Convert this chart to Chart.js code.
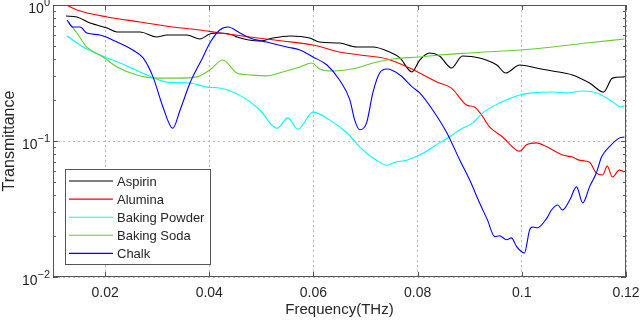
<!DOCTYPE html>
<html>
<head>
<meta charset="utf-8">
<script src="https://cdn.jsdelivr.net/npm/chart.js@4"></script>
<style>
  body { margin: 0; background: #fff; }
  canvas { display: block; }
</style>
</head>
<body>
<canvas id="chart" width="640" height="322"></canvas>
<script>
// Series data (frequency in THz, transmittance)
const aspirinFreq = [0.0125, 0.0146, 0.0171, 0.0184, 0.0204, 0.0223, 0.0267, 0.0299, 0.0319, 0.0357, 0.0382, 0.0401, 0.0420, 0.0445, 0.0453, 0.0497, 0.0522, 0.0555, 0.0593, 0.0612, 0.0650, 0.0683, 0.0714, 0.0746, 0.0766, 0.0789, 0.0804, 0.0823, 0.0842, 0.0865, 0.0886, 0.0919, 0.0952, 0.0969, 0.0996, 0.1028, 0.1059, 0.1097, 0.1130, 0.1157, 0.1174, 0.1197];
const aspirinT = [0.830, 0.816, 0.737, 0.713, 0.677, 0.633, 0.633, 0.582, 0.602, 0.602, 0.562, 0.612, 0.622, 0.602, 0.582, 0.543, 0.572, 0.592, 0.572, 0.534, 0.525, 0.491, 0.491, 0.451, 0.408, 0.322, 0.394, 0.444, 0.422, 0.344, 0.422, 0.408, 0.362, 0.316, 0.362, 0.344, 0.327, 0.306, 0.267, 0.229, 0.290, 0.296];

const aluminaFreq = [0.0127, 0.0146, 0.0204, 0.0267, 0.0330, 0.0382, 0.0420, 0.0478, 0.0541, 0.0599, 0.0650, 0.0689, 0.0741, 0.0785, 0.0804, 0.0837, 0.0865, 0.0894, 0.0909, 0.0923, 0.0938, 0.0963, 0.0990, 0.0996, 0.1009, 0.1028, 0.1048, 0.1078, 0.1097, 0.1110, 0.1130, 0.1143, 0.1155, 0.1164, 0.1174, 0.1187, 0.1197];
const aluminaT = [0.99, 0.92, 0.816, 0.75, 0.689, 0.655, 0.622, 0.582, 0.543, 0.508, 0.451, 0.429, 0.401, 0.344, 0.316, 0.271, 0.245, 0.184, 0.178, 0.155, 0.127, 0.107, 0.0856, 0.0842, 0.0937, 0.0969, 0.0906, 0.0789, 0.0762, 0.0723, 0.0697, 0.0581, 0.0562, 0.0653, 0.0543, 0.0611, 0.0591];

const powderFreq = [0.0127, 0.0158, 0.0190, 0.0229, 0.0267, 0.0319, 0.0363, 0.0395, 0.0420, 0.0464, 0.0497, 0.0530, 0.0551, 0.0570, 0.0599, 0.0631, 0.0664, 0.0695, 0.0721, 0.0741, 0.0756, 0.0779, 0.0804, 0.0842, 0.0861, 0.0881, 0.0906, 0.0925, 0.0957, 0.0996, 0.1021, 0.1059, 0.1086, 0.1117, 0.1149, 0.1174, 0.1191, 0.1197];
const powderT = [0.592, 0.491, 0.429, 0.375, 0.322, 0.271, 0.267, 0.249, 0.245, 0.211, 0.169, 0.124, 0.148, 0.122, 0.163, 0.143, 0.115, 0.0856, 0.0723, 0.0663, 0.0697, 0.0723, 0.0789, 0.0969, 0.107, 0.121, 0.136, 0.161, 0.190, 0.218, 0.226, 0.229, 0.226, 0.233, 0.222, 0.194, 0.178, 0.181];

const sodaFreq = [0.0127, 0.0146, 0.0165, 0.0196, 0.0223, 0.0261, 0.0299, 0.0338, 0.0376, 0.0401, 0.0426, 0.0453, 0.0478, 0.0510, 0.0541, 0.0574, 0.0597, 0.0612, 0.0637, 0.0683, 0.0714, 0.0752, 0.0804, 0.0842, 0.0900, 0.0996, 0.1059, 0.1124, 0.1197];
const sodaT = [0.776, 0.622, 0.491, 0.415, 0.350, 0.306, 0.290, 0.290, 0.296, 0.333, 0.394, 0.316, 0.306, 0.301, 0.322, 0.350, 0.375, 0.338, 0.327, 0.344, 0.375, 0.401, 0.415, 0.429, 0.444, 0.467, 0.491, 0.525, 0.562];

const chalkFreq = [0.0127, 0.0138, 0.0152, 0.0165, 0.0190, 0.0223, 0.0253, 0.0273, 0.0292, 0.0311, 0.0330, 0.0344, 0.0363, 0.0388, 0.0401, 0.0420, 0.0436, 0.0459, 0.0478, 0.0510, 0.0549, 0.0574, 0.0599, 0.0626, 0.0650, 0.0670, 0.0679, 0.0689, 0.0702, 0.0714, 0.0727, 0.0741, 0.0766, 0.0790, 0.0804, 0.0829, 0.0856, 0.0881, 0.0900, 0.0919, 0.0934, 0.0948, 0.0957, 0.0971, 0.0980, 0.0990, 0.1005, 0.1015, 0.1021, 0.1030, 0.1048, 0.1057, 0.1069, 0.1078, 0.1092, 0.1105, 0.1117, 0.1130, 0.1143, 0.1153, 0.1168, 0.1187, 0.1197];
const chalkT = [0.776, 0.689, 0.689, 0.622, 0.602, 0.534, 0.467, 0.408, 0.296, 0.178, 0.124, 0.169, 0.267, 0.415, 0.525, 0.655, 0.689, 0.622, 0.572, 0.534, 0.491, 0.467, 0.415, 0.362, 0.281, 0.200, 0.143, 0.121, 0.136, 0.226, 0.316, 0.338, 0.306, 0.249, 0.226, 0.169, 0.115, 0.0723, 0.0516, 0.0350, 0.0263, 0.0198, 0.0201, 0.0188, 0.0194, 0.0167, 0.0150, 0.0222, 0.0233, 0.0230, 0.0271, 0.0311, 0.0338, 0.0311, 0.0368, 0.0460, 0.0350, 0.0460, 0.0581, 0.0762, 0.0906, 0.105, 0.107];

const seriesNames = ['Aspirin', 'Alumina', 'Baking Powder', 'Baking Soda', 'Chalk'];

// Axis ticks
const xTicks = [0.02, 0.04, 0.06, 0.08, 0.1, 0.12];
const xTickLabels = ['0.02', '0.04', '0.06', '0.08', '0.1', '0.12'];
const yTicks = [0.01, 0.1, 1];
const yTickExponents = ['\u22122', '\u22121', '0'];

const colors = {
    aspirin: '#000000',
    alumina: '#ff0000',
    powder: '#00ffff',
    soda: '#66cc33',
    chalk: '#0000ff',
    axis: '#555555',
    grid: '#bbbbbb',
    text: '#262626'
};

Chart.defaults.font.family = "'Liberation Sans', Arial, sans-serif";
Chart.defaults.color = colors.text;

function toPoints(freq, vals) {
    return freq.map((f, i) => ({ x: f, y: vals[i] }));
}

function makeSet(name, freq, vals, color, order) {
    return {
        label: name,
        data: toPoints(freq, vals),
        borderColor: color,
        backgroundColor: color,
        borderWidth: 1.1,
        pointRadius: 0,
        cubicInterpolationMode: 'monotone',
        fill: false,
        order: order
    };
}

// Frame, inward ticks, y labels with exponents and the legend box
const framePlugin = {
    id: 'frame',
    afterDraw(chart) {
        const { ctx, chartArea: a, scales } = chart;
        const x = scales.x, y = scales.y;
        ctx.save();
        ctx.strokeStyle = colors.axis;
        ctx.lineWidth = 1;
        ctx.strokeRect(a.left + 0.5, a.top + 0.5, a.right - a.left - 1, a.bottom - a.top - 1);

        ctx.beginPath();
        xTicks.forEach(v => {
            const px = Math.round(x.getPixelForValue(v)) + 0.5;
            ctx.moveTo(px, a.bottom); ctx.lineTo(px, a.bottom - 5);
            ctx.moveTo(px, a.top); ctx.lineTo(px, a.top + 5);
        });
        [0.01, 0.1].forEach(d => {
            for (let m = 1; m <= 10; m++) {
                const py = Math.round(y.getPixelForValue(m * d)) + 0.5;
                const len = (m === 1 || m === 10) ? 5 : 3;
                ctx.moveTo(a.left, py); ctx.lineTo(a.left + len, py);
                ctx.moveTo(a.right, py); ctx.lineTo(a.right - len, py);
            }
        });
        ctx.stroke();

        // y tick labels: 10 with superscript
        ctx.fillStyle = colors.text;
        ctx.textBaseline = 'middle';
        yTicks.forEach((v, i) => {
            const py = y.getPixelForValue(v);
            const right = a.left - 3;
            ctx.font = "11px 'Liberation Sans', Arial, sans-serif";
            ctx.textAlign = 'right';
            const ew = ctx.measureText(yTickExponents[i]).width;
            ctx.fillText(yTickExponents[i], right, py - 2);
            ctx.font = "14px 'Liberation Sans', Arial, sans-serif";
            ctx.fillText('10', right - ew, py + 4);
        });

        // legend
        const lx = 65, ly = 169, lw = 145, lh = 95, rowH = 18.1;
        ctx.fillStyle = '#ffffff';
        ctx.fillRect(lx, ly, lw, lh);
        ctx.strokeStyle = colors.axis;
        ctx.strokeRect(lx + 0.5, ly + 0.5, lw, lh);
        ctx.font = "13px 'Liberation Sans', Arial, sans-serif";
        ctx.textAlign = 'left';
        seriesNames.forEach((name, i) => {
            const ds = chart.data.datasets.find(d => d.label === name);
            const ry = ly + 12 + i * rowH;
            ctx.strokeStyle = ds.borderColor;
            ctx.lineWidth = 1.1;
            ctx.beginPath();
            ctx.moveTo(lx + 4, ry); ctx.lineTo(lx + 48, ry);
            ctx.stroke();
            ctx.fillStyle = colors.text;
            ctx.fillText(name, lx + 52, ry + 1);
        });
        ctx.restore();
    }
};

new Chart(document.getElementById('chart'), {
    type: 'line',
    data: {
        datasets: [
            makeSet(seriesNames[0], aspirinFreq, aspirinT, colors.aspirin, 5),
            makeSet(seriesNames[1], aluminaFreq, aluminaT, colors.alumina, 4),
            makeSet(seriesNames[2], powderFreq, powderT, colors.powder, 3),
            makeSet(seriesNames[3], sodaFreq, sodaT, colors.soda, 2),
            makeSet(seriesNames[4], chalkFreq, chalkT, colors.chalk, 1)
        ]
    },
    options: {
        responsive: false,
        devicePixelRatio: 1,
        animation: false,
        layout: { padding: { top: 5, right: 14, left: 0, bottom: 0 } },
        plugins: {
            legend: { display: false },
            tooltip: { enabled: false }
        },
        scales: {
            x: {
                type: 'linear',
                min: 0.01,
                max: 0.12,
                afterBuildTicks: scale => { scale.ticks = xTicks.map(v => ({ value: v })); },
                afterFit: scale => {
                    scale.height = 45;
                    scale.paddingLeft = 0;
                    scale.paddingRight = 0;
                },
                ticks: {
                    autoSkip: false,
                    maxRotation: 0,
                    padding: 8,
                    font: { size: 14 },
                    color: colors.text,
                    callback: (value, index) => xTickLabels[index]
                },
                grid: {
                    drawTicks: false,
                    color: colors.grid,
                    lineWidth: 1
                },
                border: { display: false, dash: [2, 3] },
                title: {
                    display: true,
                    text: 'Frequency(THz)',
                    font: { size: 15 },
                    color: colors.text,
                    padding: { top: 0, bottom: 3 }
                }
            },
            y: {
                type: 'logarithmic',
                min: 0.01,
                max: 1,
                afterBuildTicks: scale => { scale.ticks = yTicks.map(v => ({ value: v })); },
                afterFit: scale => {
                    scale.width = 53;
                    scale.paddingTop = 0;
                    scale.paddingBottom = 0;
                },
                ticks: { display: false },
                grid: {
                    drawTicks: false,
                    color: colors.grid,
                    lineWidth: 1
                },
                border: { display: false, dash: [2, 3] },
                title: {
                    display: true,
                    text: 'Transmittance',
                    font: { size: 16 },
                    color: colors.text,
                    padding: { top: 0, bottom: 0 }
                }
            }
        }
    },
    plugins: [framePlugin]
});
</script>
</body>
</html>
